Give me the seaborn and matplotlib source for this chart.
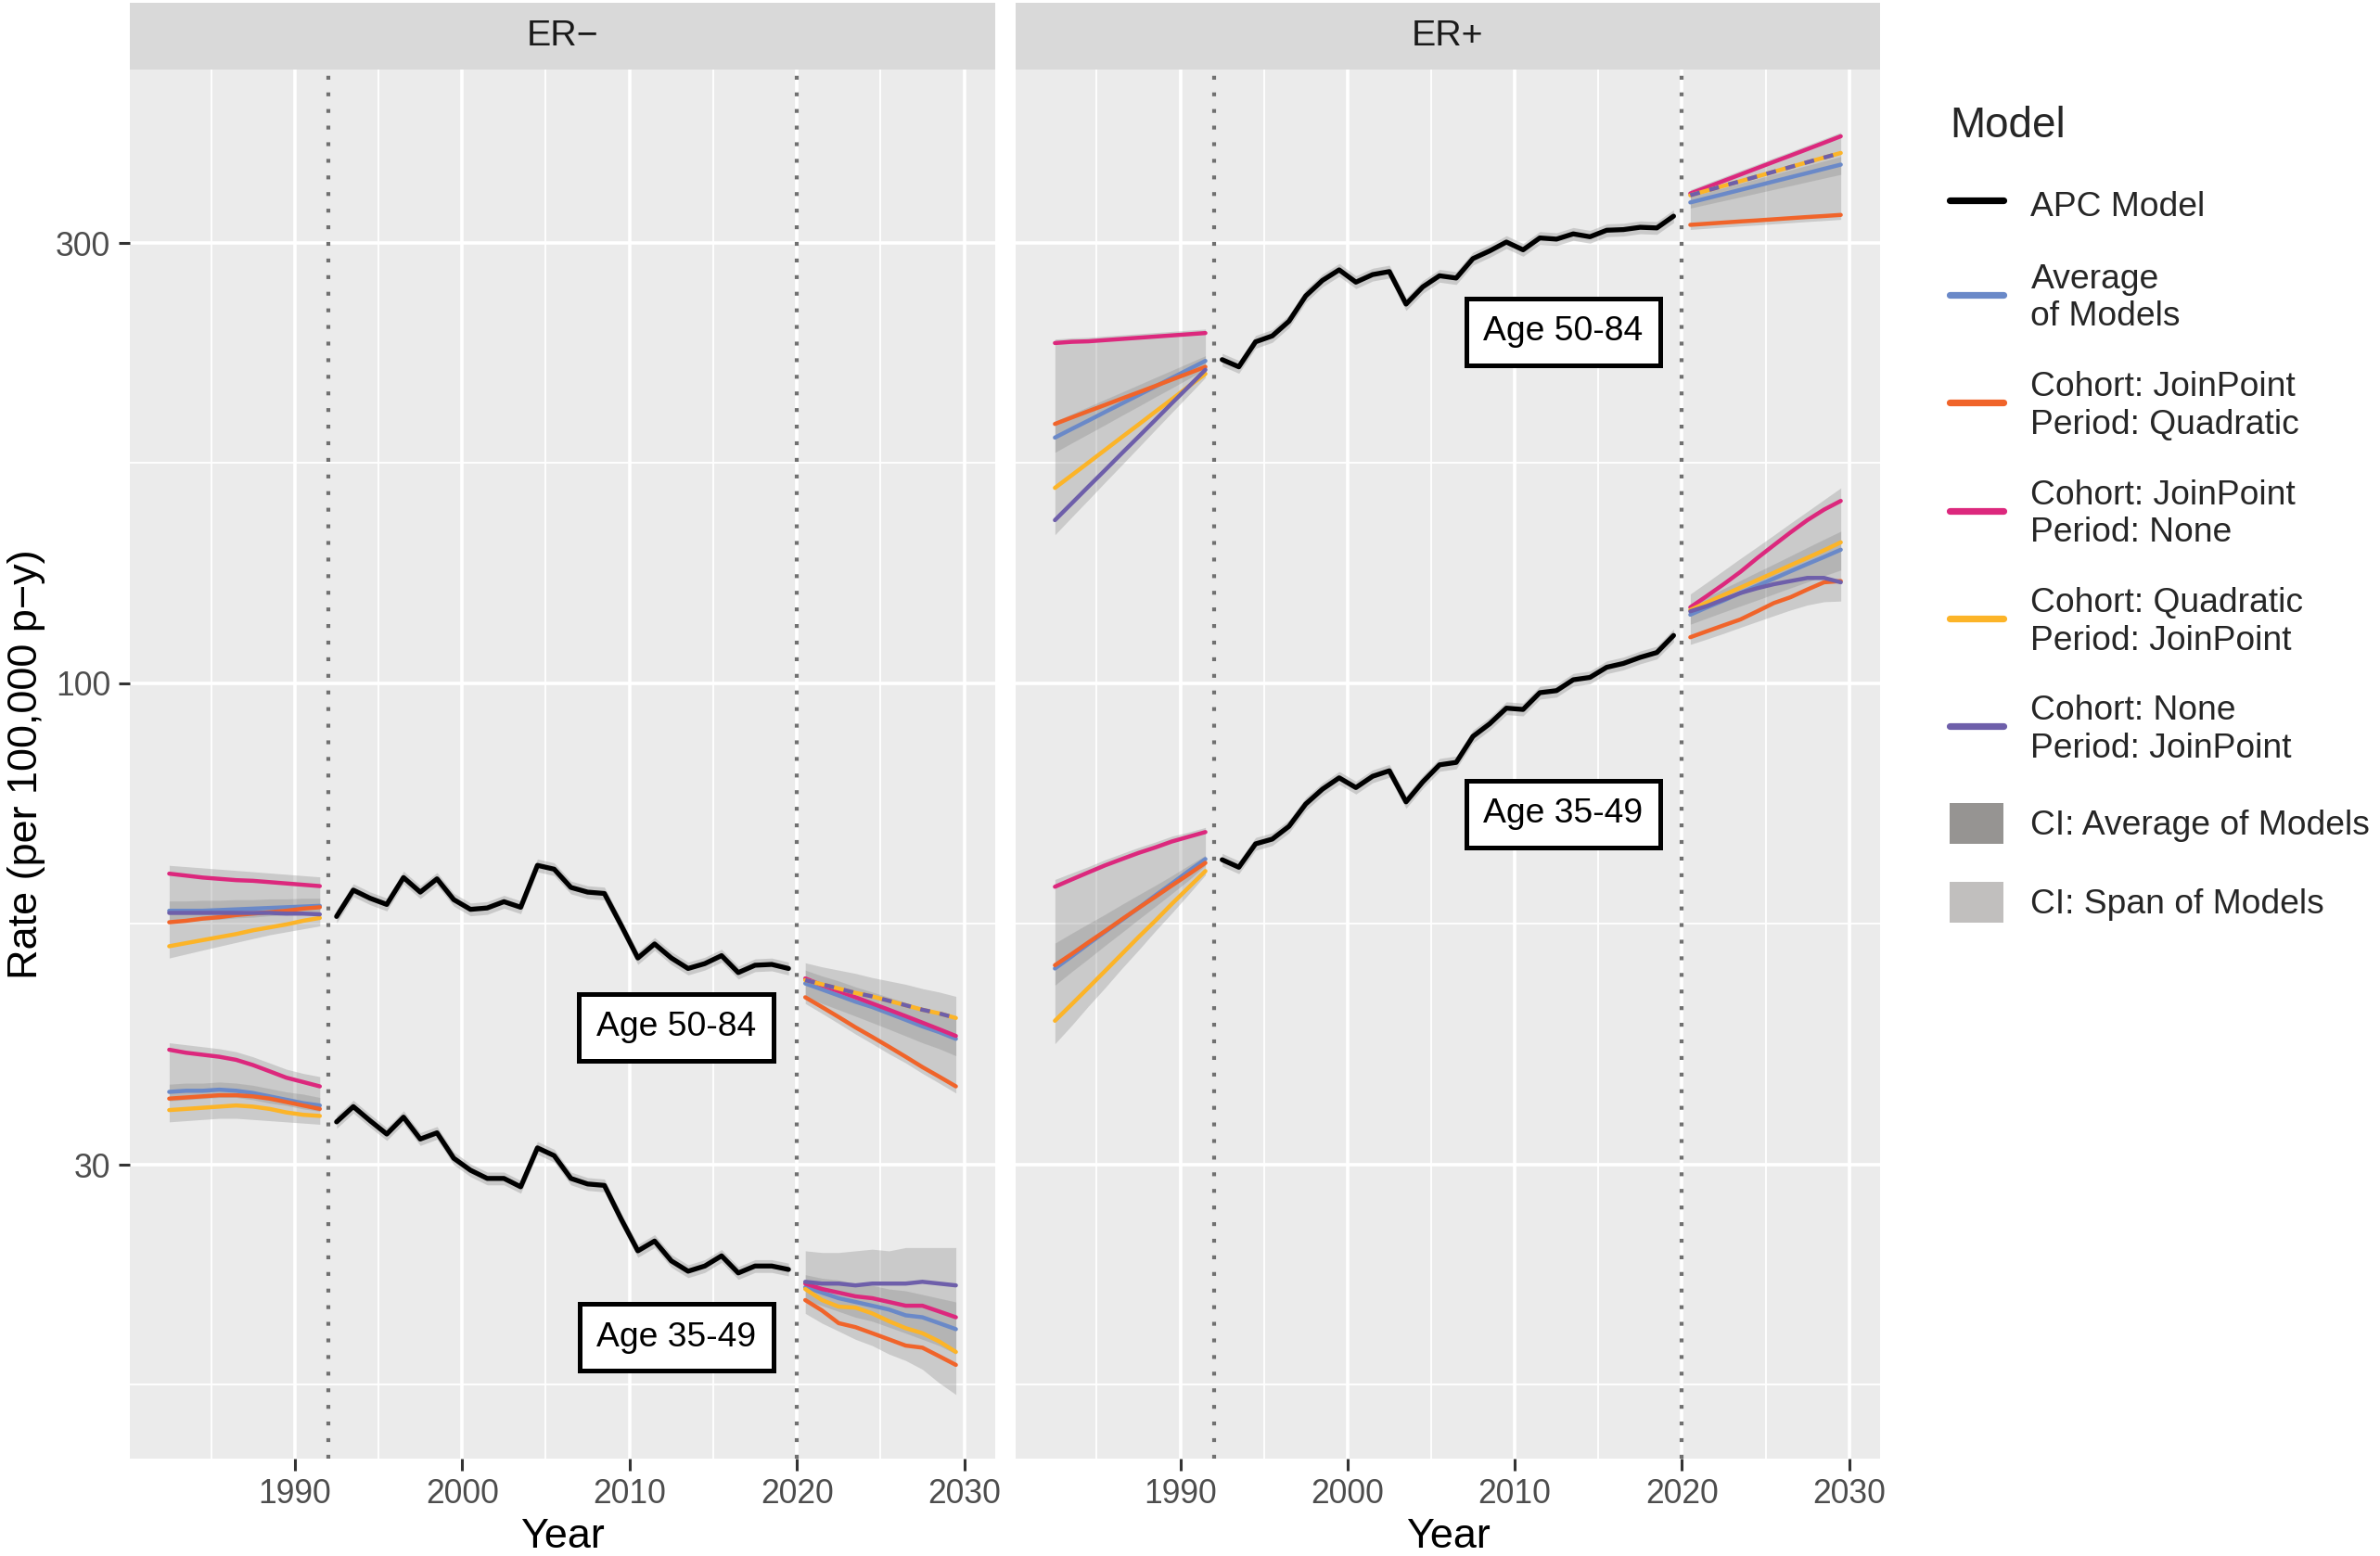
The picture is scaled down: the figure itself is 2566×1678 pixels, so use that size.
import numpy as np
import pandas as pd
import matplotlib
matplotlib.use("Agg")
import matplotlib.pyplot as plt
import seaborn as sns
from matplotlib.lines import Line2D
from matplotlib.patches import Patch
from matplotlib.ticker import FixedLocator, NullFormatter, FixedFormatter

# ---------------- data ----------------
BACK_YEARS = [1982.5, 1983.5, 1984.5, 1985.5, 1986.5, 1987.5, 1988.5, 1989.5, 1990.5, 1991.5]
PROJ_YEARS = [2020.5, 2021.5, 2022.5, 2023.5, 2024.5, 2025.5, 2026.5, 2027.5, 2028.5, 2029.5]
APC_YEARS = [1992.5 + i for i in range(28)]

MODELS = ["avg", "jp_quad", "jp_none", "quad_jp", "none_jp"]
MODEL_LABELS = ["Average\nof Models", "Cohort: JoinPoint\nPeriod: Quadratic",
                "Cohort: JoinPoint\nPeriod: None", "Cohort: Quadratic\nPeriod: JoinPoint",
                "Cohort: None\nPeriod: JoinPoint"]
MODEL_COLORS = ["#6A89C8", "#F0642A", "#DC287D", "#FCB428", "#6E5FAA"]

# APC model (observed period) -------------------------------------------
ERN_OLD_APC = [55.8, 59.6, 58.4, 57.5, 61.5, 59.3, 61.3, 58.2, 56.8, 57.0, 57.9, 57.1, 63.4, 62.8,
               60.0, 59.3, 59.1, 54.6, 50.3, 52.1, 50.3, 49.0, 49.6, 50.6, 48.5, 49.4, 49.5, 49.0]
ERN_YOUNG_APC = [33.4, 34.7, 33.5, 32.4, 33.8, 32.0, 32.5, 30.5, 29.6, 29.0, 29.0, 28.4, 31.3, 30.7,
                 29.0, 28.6, 28.5, 26.2, 24.2, 24.8, 23.6, 23.0, 23.3, 23.9, 22.9, 23.3, 23.3, 23.1]
ERP_OLD_APC = [224.3, 220.3, 234.5, 238.0, 246.9, 263.0, 273.4, 280.7, 272.2, 277.4, 279.5, 257.7,
               269.0, 276.6, 275.0, 288.7, 294.3, 300.9, 295.1, 304.0, 303.1, 307.1, 304.9, 309.9,
               310.4, 312.2, 311.7, 321.0]
ERP_YOUNG_APC = [64.3, 63.1, 66.9, 67.7, 69.9, 73.9, 76.7, 78.9, 77.0, 79.2, 80.3, 74.3, 78.1, 81.5,
                 82.0, 87.5, 90.3, 93.9, 93.6, 97.6, 98.1, 100.8, 101.4, 104.0, 105.0, 106.6, 107.9, 112.6]

# ER- , age 50-84 -----------------------------------------------------------
ERN_OLD_BACK = {
    "avg":     [56.6, 56.6, 56.6, 56.7, 56.8, 56.9, 57.0, 57.1, 57.2, 57.3],
    "jp_quad": [55.0, 55.2, 55.5, 55.7, 56.0, 56.2, 56.4, 56.6, 56.9, 57.1],
    "jp_none": [62.1, 61.8, 61.5, 61.3, 61.1, 61.0, 60.8, 60.6, 60.4, 60.2],
    "quad_jp": [51.8, 52.2, 52.6, 53.0, 53.4, 53.9, 54.3, 54.7, 55.2, 55.6],
    "none_jp": [56.3, 56.3, 56.3, 56.3, 56.3, 56.3, 56.3, 56.2, 56.2, 56.1],
}
ERN_OLD_BACK_SPAN = ([50.3, 50.8, 51.3, 51.8, 52.3, 52.8, 53.3, 53.7, 54.1, 54.5],
                     [63.4, 63.2, 63.0, 62.8, 62.6, 62.4, 62.2, 62.0, 61.8, 61.6])
ERN_OLD_BACK_CI = ([55.0, 55.1, 55.3, 55.4, 55.6, 55.7, 55.9, 56.0, 56.2, 56.3],
                   [58.0, 58.0, 58.1, 58.1, 58.2, 58.2, 58.3, 58.3, 58.4, 58.4])
ERN_OLD_PROJ = {
    "avg":     [47.2, 46.5, 45.8, 45.1, 44.5, 43.8, 43.1, 42.4, 41.8, 41.1],
    "jp_quad": [45.6, 44.5, 43.4, 42.3, 41.3, 40.3, 39.3, 38.3, 37.4, 36.5],
    "jp_none": [47.8, 47.0, 46.3, 45.6, 44.9, 44.2, 43.5, 42.8, 42.1, 41.4],
    "quad_jp": [47.6, 47.1, 46.6, 46.1, 45.7, 45.2, 44.7, 44.2, 43.8, 43.3],
    "none_jp": [47.6, 47.1, 46.6, 46.1, 45.7, 45.2, 44.7, 44.2, 43.8, 43.3],
}
ERN_OLD_PROJ_SPAN = ([44.9, 43.8, 42.7, 41.6, 40.6, 39.6, 38.7, 37.7, 36.8, 35.9],
                     [49.7, 49.2, 48.8, 48.4, 47.9, 47.5, 47.1, 46.6, 46.2, 45.7])
ERN_OLD_PROJ_CI = ([45.7, 44.9, 44.2, 43.5, 42.8, 42.1, 41.4, 40.7, 40.1, 39.4],
                   [48.8, 48.1, 47.5, 46.8, 46.2, 45.6, 45.0, 44.4, 43.8, 43.2])

# ER- , age 35-49 -----------------------------------------------------------
ERN_YOUNG_BACK = {
    "avg":     [36.0, 36.1, 36.1, 36.2, 36.1, 35.9, 35.6, 35.3, 35.0, 34.8],
    "jp_quad": [35.4, 35.5, 35.6, 35.7, 35.7, 35.6, 35.4, 35.1, 34.8, 34.5],
    "jp_none": [40.0, 39.7, 39.5, 39.3, 39.0, 38.5, 37.9, 37.3, 36.9, 36.5],
    "quad_jp": [34.4, 34.5, 34.6, 34.7, 34.8, 34.7, 34.5, 34.2, 34.0, 33.9],
    "none_jp": [None] * 10,
}
ERN_YOUNG_BACK_SPAN = ([33.4, 33.5, 33.6, 33.7, 33.7, 33.6, 33.5, 33.4, 33.3, 33.2],
                       [40.7, 40.5, 40.3, 40.1, 39.8, 39.3, 38.7, 38.1, 37.7, 37.4])
ERN_YOUNG_BACK_CI = ([35.2, 35.3, 35.4, 35.5, 35.5, 35.3, 35.0, 34.8, 34.5, 34.3],
                     [36.7, 36.8, 36.8, 36.9, 36.8, 36.6, 36.3, 36.0, 35.8, 35.5])
ERN_YOUNG_PROJ = {
    "avg":     [22.1, 21.8, 21.5, 21.3, 21.1, 20.9, 20.6, 20.5, 20.2, 19.9],
    "jp_quad": [21.4, 20.85, 20.2, 20.0, 19.7, 19.4, 19.1, 19.0, 18.6, 18.2],
    "jp_none": [22.3, 22.0, 21.8, 21.6, 21.5, 21.3, 21.1, 21.1, 20.8, 20.5],
    "quad_jp": [22.0, 21.4, 21.05, 21.0, 20.7, 20.3, 19.95, 19.7, 19.3, 18.8],
    "none_jp": [22.4, 22.3, 22.3, 22.2, 22.3, 22.3, 22.3, 22.4, 22.3, 22.2],
}
ERN_YOUNG_PROJ_SPAN = ([20.7, 20.2, 19.8, 19.4, 19.1, 18.7, 18.4, 18.0, 17.4, 16.9],
                       [24.2, 24.1, 24.1, 24.2, 24.3, 24.2, 24.4, 24.4, 24.4, 24.4])
ERN_YOUNG_PROJ_CI = ([21.4, 21.1, 20.8, 20.5, 20.3, 20.0, 19.7, 19.4, 19.1, 18.7],
                     [22.8, 22.6, 22.5, 22.3, 22.2, 22.0, 21.9, 21.7, 21.5, 21.3])

# ER+ , age 50-84 -----------------------------------------------------------
ERP_OLD_BACK = {
    "avg":     [184.6, 188.6, 192.6, 196.8, 201.0, 205.3, 209.7, 214.3, 218.9, 223.6],
    "jp_quad": [191.0, 194.1, 197.2, 200.3, 203.5, 206.7, 210.0, 213.4, 216.8, 220.3],
    "jp_none": [233.8, 234.5, 234.8, 235.5, 236.2, 236.9, 237.6, 238.3, 239.0, 239.7],
    "quad_jp": [162.8, 168.0, 173.4, 179.0, 184.8, 190.7, 196.9, 203.2, 209.8, 216.5],
    "none_jp": [150.2, 156.6, 163.3, 170.2, 177.5, 185.0, 192.9, 201.2, 209.7, 218.7],
}
ERP_OLD_BACK_SPAN = ([144.8, 151.3, 158.0, 165.1, 172.4, 180.1, 188.2, 196.6, 205.3, 214.5],
                     [236.1, 236.8, 237.1, 237.9, 238.6, 239.3, 240.0, 240.7, 241.4, 242.1])
ERP_OLD_BACK_CI = ([177.9, 182.1, 186.3, 190.6, 195.1, 199.6, 204.3, 209.0, 213.9, 219.0],
                   [192.3, 195.8, 199.4, 203.1, 206.8, 210.6, 214.5, 218.4, 222.4, 226.5])
ERP_OLD_PROJ = {
    "avg":     [332.2, 335.7, 339.2, 342.8, 346.4, 350.1, 353.8, 357.5, 361.3, 365.1],
    "jp_quad": [314.1, 315.0, 315.9, 316.8, 317.6, 318.5, 319.4, 320.3, 321.1, 322.0],
    "jp_none": [339.7, 345.1, 350.6, 356.2, 361.9, 367.7, 373.5, 379.5, 385.6, 391.9],
    "quad_jp": [338.2, 342.2, 346.3, 350.3, 354.5, 358.7, 363.0, 367.3, 371.6, 375.9],
    "none_jp": [338.2, 342.2, 346.3, 350.3, 354.5, 358.7, 363.0, 367.3, 371.6, 375.9],
}
ERP_OLD_PROJ_SPAN = ([310.5, 311.4, 312.3, 313.2, 314.0, 314.9, 315.8, 316.7, 317.5, 318.4],
                     [343.0, 348.5, 354.1, 359.8, 365.5, 371.4, 377.2, 383.3, 389.5, 395.8])
ERP_OLD_PROJ_CI = ([327.5, 330.6, 333.7, 336.8, 340.0, 343.2, 346.4, 349.7, 353.0, 356.3],
                   [337.0, 340.8, 344.6, 348.5, 352.4, 356.4, 360.4, 364.4, 368.5, 372.6])

# ER+ , age 35-49 -----------------------------------------------------------
ERP_YOUNG_BACK = {
    "avg":     [49.0, 50.5, 52.1, 53.7, 55.3, 57.0, 58.8, 60.6, 62.5, 64.4],
    "jp_quad": [49.4, 50.8, 52.3, 53.8, 55.4, 57.0, 58.6, 60.3, 62.0, 63.8],
    "jp_none": [60.1, 61.2, 62.3, 63.4, 64.4, 65.4, 66.3, 67.3, 68.1, 68.9],
    "quad_jp": [43.0, 44.8, 46.7, 48.7, 50.8, 53.0, 55.2, 57.6, 60.0, 62.5],
    "none_jp": [None] * 10,
}
ERP_YOUNG_BACK_SPAN = ([40.6, 42.5, 44.6, 46.7, 49.0, 51.3, 53.8, 56.3, 59.0, 61.9],
                       [61.2, 62.2, 63.2, 64.3, 65.3, 66.3, 67.2, 68.2, 68.9, 69.7])
ERP_YOUNG_BACK_CI = ([47.0, 48.6, 50.2, 51.9, 53.6, 55.4, 57.2, 59.1, 61.1, 63.4],
                     [52.2, 53.5, 54.8, 56.1, 57.5, 58.9, 60.3, 61.8, 63.4, 65.0])
ERP_YOUNG_PROJ = {
    "avg":     [118.6, 120.8, 122.9, 125.2, 127.5, 129.8, 132.2, 134.6, 137.0, 139.5],
    "jp_quad": [112.1, 113.8, 115.5, 117.2, 119.6, 122.1, 123.9, 126.3, 128.6, 129.0],
    "jp_none": [120.8, 124.3, 128.0, 132.0, 136.6, 141.1, 145.7, 150.2, 154.2, 157.6],
    "quad_jp": [120.0, 122.3, 124.6, 126.9, 129.3, 131.7, 134.2, 136.7, 139.3, 142.1],
    "none_jp": [119.6, 121.2, 123.2, 125.2, 126.7, 128.0, 129.0, 130.0, 130.0, 128.6],
}
ERP_YOUNG_PROJ_SPAN = ([110.1, 111.6, 113.2, 114.9, 116.6, 118.3, 120.0, 121.5, 122.5, 122.7],
                       [124.9, 128.6, 132.5, 136.5, 140.5, 144.7, 149.1, 153.5, 158.1, 162.8])
ERP_YOUNG_PROJ_CI = ([115.8, 117.6, 119.4, 121.2, 123.0, 124.9, 126.8, 128.7, 130.7, 132.6],
                     [121.5, 124.0, 126.6, 129.2, 131.9, 134.6, 137.4, 140.3, 143.2, 146.1])

PANELS = ["ER\u2212", "ER+"]
Y_TICKS = [30, 100, 300]
X_TICKS = [1990, 2000, 2010, 2020, 2030]
CUT_YEARS = [1992, 2020]
LABEL_POS = {"ER\u2212": [(2012.8, 42.3, "Age 50-84"), (2012.8, 19.5, "Age 35-49")],
             "ER+": [(2012.9, 240.4, "Age 50-84"), (2012.9, 72.1, "Age 35-49")]}

# ---------------- style ----------------
sns.set_theme(style="darkgrid")
plt.rcParams['font.family'] = ['Liberation Sans', 'DejaVu Sans']

PALETTE = dict(zip(MODELS, MODEL_COLORS))
W, H = 2566, 1678
fig = plt.figure(figsize=(W / 200, H / 200), dpi=200)
fig.patch.set_facecolor("white")

ax_top, ax_bot = 75, 1573
strip_top = 3
panel_x = [(140, 1073), (1095, 2027)]

SPAN_COLOR, SPAN_ALPHA = "#7F7F7F", 0.30
CI_COLOR, CI_ALPHA = "#6A6A6A", 0.22
LW_MODEL = 1.6


def draw_segment(ax, years, models, span, ci, dashed=()):
    ax.fill_between(years, span[0], span[1], color=SPAN_COLOR, alpha=SPAN_ALPHA, lw=0, zorder=2)
    ax.fill_between(years, ci[0], ci[1], color=CI_COLOR, alpha=CI_ALPHA, lw=0, zorder=2.1)
    rows = []
    for m in MODELS:
        for yr, v in zip(years, models[m]):
            if v is not None:
                rows.append((yr, v, m))
    df = pd.DataFrame(rows, columns=["year", "rate", "model"])
    solid = df[~df["model"].isin(dashed)]
    order = [m for m in MODELS if m in set(solid["model"])]
    sns.lineplot(data=solid, x="year", y="rate", hue="model", hue_order=order,
                 palette=PALETTE, estimator=None, linewidth=LW_MODEL, legend=False, ax=ax,
                 zorder=3)
    for m in dashed:
        sub = df[df["model"] == m]
        sns.lineplot(data=sub, x="year", y="rate", color=PALETTE[m], estimator=None,
                     linewidth=LW_MODEL, linestyle=(0, (2.4, 2.4)), legend=False, ax=ax,
                     zorder=3.2)


def draw_apc(ax, vals):
    lo = [v * 0.984 for v in vals]
    hi = [v * 1.016 for v in vals]
    ax.fill_between(APC_YEARS, lo, hi, color="#8C8C8C", alpha=0.35, lw=0, zorder=2)
    sns.lineplot(x=APC_YEARS, y=vals, color="black", linewidth=1.9, estimator=None, ax=ax,
                 zorder=3.5)


DATA = {
    "ER\u2212": [(ERN_OLD_APC, ERN_OLD_BACK, ERN_OLD_BACK_SPAN, ERN_OLD_BACK_CI,
                  ERN_OLD_PROJ, ERN_OLD_PROJ_SPAN, ERN_OLD_PROJ_CI, ("none_jp",)),
                 (ERN_YOUNG_APC, ERN_YOUNG_BACK, ERN_YOUNG_BACK_SPAN, ERN_YOUNG_BACK_CI,
                  ERN_YOUNG_PROJ, ERN_YOUNG_PROJ_SPAN, ERN_YOUNG_PROJ_CI, ())],
    "ER+": [(ERP_OLD_APC, ERP_OLD_BACK, ERP_OLD_BACK_SPAN, ERP_OLD_BACK_CI,
             ERP_OLD_PROJ, ERP_OLD_PROJ_SPAN, ERP_OLD_PROJ_CI, ("none_jp",)),
            (ERP_YOUNG_APC, ERP_YOUNG_BACK, ERP_YOUNG_BACK_SPAN, ERP_YOUNG_BACK_CI,
             ERP_YOUNG_PROJ, ERP_YOUNG_PROJ_SPAN, ERP_YOUNG_PROJ_CI, ())],
}

axes = []
for i, (panel, (x0, x1)) in enumerate(zip(PANELS, panel_x)):
    ax = fig.add_axes([x0 / W, 1 - ax_bot / H, (x1 - x0) / W, (ax_bot - ax_top) / H])
    axes.append(ax)
    ax.set_facecolor("#EBEBEB")
    for s in ax.spines.values():
        s.set_visible(False)
    ax.set_yscale("log")
    ax.set_xlim(1980.15, 2031.85)
    ax.set_ylim(14.4, 463)

    for apc, back, bspan, bci, proj, pspan, pci, dashed in DATA[panel]:
        draw_segment(ax, BACK_YEARS, back, bspan, bci)
        draw_apc(ax, apc)
        draw_segment(ax, PROJ_YEARS, proj, pspan, pci, dashed=dashed)

    for cy in CUT_YEARS:
        ax.axvline(cy, color="#707070", lw=1.5, ls=(0, (1.0, 3.3)), zorder=2.5)

    for xt, yt, txt in LABEL_POS[panel]:
        ax.text(xt, yt, txt, ha="center", va="center", fontsize=13.4, color="black", zorder=6,
                bbox=dict(boxstyle="square,pad=0.5", fc="white", ec="black", lw=1.8))

    ax.xaxis.set_major_locator(FixedLocator(X_TICKS))
    ax.xaxis.set_minor_locator(FixedLocator([1985, 1995, 2005, 2015, 2025]))
    ax.yaxis.set_major_locator(FixedLocator(Y_TICKS))
    ax.yaxis.set_major_formatter(FixedFormatter([str(t) for t in Y_TICKS]))
    ax.yaxis.set_minor_locator(FixedLocator([17.32, 54.77, 173.2]))
    ax.yaxis.set_minor_formatter(NullFormatter())
    ax.xaxis.set_minor_formatter(NullFormatter())
    ax.set_axisbelow(True)
    ax.grid(True, which="major", color="white", linewidth=1.3)
    ax.grid(True, which="minor", color="white", linewidth=0.65)
    ax.tick_params(axis="both", which="major", length=4.5, width=1.1, color="#333333",
                   labelcolor="#4D4D4D", labelsize=12.8, pad=3, bottom=True, left=(i == 0))
    ax.tick_params(axis="both", which="minor", length=0)
    if i == 0:
        ax.set_ylabel("Rate (per 100,000 p\u2212y)", fontsize=16.2, labelpad=4, color="black")
    else:
        ax.set_ylabel("")
        ax.tick_params(axis="y", labelleft=False)
    ax.set_xlabel("Year", fontsize=16.2, labelpad=3, color="black")

    sax = fig.add_axes([x0 / W, 1 - ax_top / H, (x1 - x0) / W, (ax_top - strip_top) / H])
    sax.set_facecolor("#D9D9D9")
    sax.set_xticks([])
    sax.set_yticks([])
    sax.grid(False)
    for s in sax.spines.values():
        s.set_visible(False)
    sax.text(0.5, 0.5, panel, ha="center", va="center", fontsize=14.2, color="#1A1A1A",
             transform=sax.transAxes)

# ---------------- legend ----------------
handles = [Line2D([0], [0], color="black", lw=2.6)]
labels = ["APC Model"]
for m, lab in zip(MODELS, MODEL_LABELS):
    handles.append(Line2D([0], [0], color=PALETTE[m], lw=2.6))
    labels.append(lab)
handles.append(Patch(facecolor="#969492", edgecolor="none"))
labels.append("CI: Average of Models")
handles.append(Patch(facecolor="#C1BFBE", edgecolor="none"))
labels.append("CI: Span of Models")

leg = fig.legend(handles, labels, title="Model", loc="upper left",
                 bbox_to_anchor=(2102 / W, 1 - 114 / H), frameon=False, fontsize=13.4,
                 title_fontsize=16.5, handlelength=1.55, handleheight=1.45, handletextpad=0.8,
                 labelspacing=1.1, borderpad=0, borderaxespad=0, alignment="left")

fig.savefig("out.png", dpi=200, facecolor="white")
